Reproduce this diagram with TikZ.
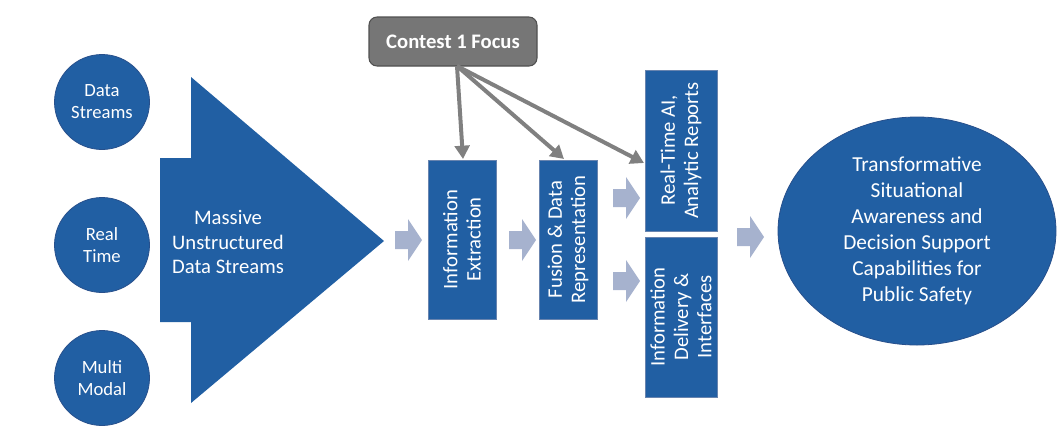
\documentclass[tikz,border=0pt]{standalone}
\usepackage{fontspec}
\setmainfont{Carlito}
\usetikzlibrary{shapes.geometric,arrows.meta}
\definecolor{mblue}{RGB}{33,95,163}
\definecolor{mborder}{RGB}{40,80,140}
\definecolor{lightarr}{RGB}{166,178,206}
\definecolor{cgray}{RGB}{118,118,118}
\definecolor{cgrayb}{RGB}{80,80,80}
\definecolor{agray}{RGB}{128,128,128}
\tikzset{
  src/.style={circle,fill=mblue,draw=mborder,line width=0.6pt,minimum size=71.25pt,inner sep=0pt,text=white,align=center,font=\fontsize{14}{16.5}\selectfont},
  stagebox/.style={rectangle,fill=mblue,draw=mborder!70!white,line width=0.6pt,rotate=90,inner sep=0pt,text=white,align=center,font=\fontsize{15.5}{17.5}\selectfont},
  barrow/.pic={\fill[lightarr] (0,-9) -- (13,-9) -- (13,-21) -- (27,0) -- (13,21) -- (13,9) -- (0,9) -- cycle;},
  focusarr/.style={draw=agray,line width=3pt,-{Triangle[length=10pt,width=11pt]},shorten >=0pt},
}
\begin{document}
\begin{tikzpicture}[x=0.75pt,y=-0.75pt]
\useasboundingbox (0,0) rectangle (1057,437);
% source circles
\node[src] (ds) at (102,102) {Data\\Streams};
\node[src] (rt) at (102,245) {Real\\Time};
\node[src] (mm) at (102,378) {Multi\\Modal};
% big arrow
\fill[mblue] (160,158) -- (191,158) -- (191,77) -- (384,241) -- (191,403) -- (191,322) -- (160,322) -- cycle;
\node[text=white,align=center,font=\fontsize{15.5}{18.5}\selectfont] (mass) at (228,242) {Massive\\Unstructured\\Data Streams};
% stage boxes
\node[stagebox,minimum width=119.25pt,minimum height=51pt] (ie) at (462,239.5) {Information\\Extraction};
\node[stagebox,minimum width=119.25pt,minimum height=43.5pt] (fu) at (568,239.5) {Fusion \& Data\\Representation};
\node[stagebox,minimum width=120.75pt,minimum height=54pt] (ai) at (681,150.5) {Real-Time AI,\\Analytic Reports};
\node[stagebox,minimum width=120pt,minimum height=54pt] (dl) at (681,317) {Information\\Delivery \&\\Interfaces};
% outcome ellipse
\node[ellipse,fill=mblue,draw=mborder,line width=0.6pt,minimum width=208.5pt,minimum height=171pt,inner sep=0pt,text=white,align=center,font=\fontsize{16}{19.5}\selectfont] (out) at (917,231) {Transformative\\Situational\\Awareness and\\Decision Support\\Capabilities for\\Public Safety};
% light block arrows
\pic at (395,240) {barrow};
\pic at (509,240) {barrow};
\pic at (613,198) {barrow};
\pic at (613,281) {barrow};
\pic at (737,237) {barrow};
% contest focus
\node[rectangle,rounded corners=6pt,fill=cgray,draw=cgrayb,line width=0.8pt,minimum width=126pt,minimum height=36.75pt,text=white,font=\bfseries\fontsize{15.5}{17}\selectfont] (cf) at (453,41.5) {Contest 1 Focus};
\coordinate (cfs) at (457,66);
\coordinate (e1) at (463,159);
\coordinate (e2) at (564,159);
\coordinate (e3) at (644,163);
\draw[focusarr] (cfs) -- (e1);
\draw[focusarr] (cfs) -- (e2);
\draw[focusarr] (cfs) -- (e3);
\end{tikzpicture}
\end{document}
